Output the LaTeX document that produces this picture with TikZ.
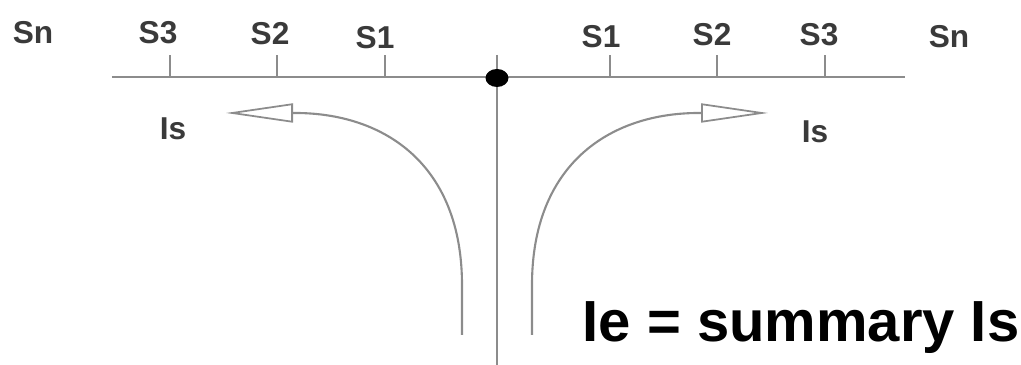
\documentclass[tikz,border=0pt]{standalone}
\usepackage{fontspec}
\setmainfont{Liberation Sans}
\usetikzlibrary{arrows.meta,shapes.geometric}
\definecolor{axisgray}{HTML}{8C8C8C}
\definecolor{labelgray}{HTML}{3A3A3A}

\begin{document}
\begin{tikzpicture}[every node/.style={font=\fontsize{9}{10}\selectfont\bfseries,text=labelgray,inner sep=0pt},
  axisline/.style={draw=axisgray,line width=0.6pt},
  flow/.style={draw=axisgray,line width=0.6pt,-{Triangle[open,length=6.7mm,width=1.9mm,line width=0.5pt]}}]
\useasboundingbox (0,0) rectangle (10.21,3.65);
\coordinate (axisL) at (1.12,2.88);
\coordinate (axisR) at (9.05,2.88);
\coordinate (top) at (4.97,3.10);
\coordinate (bottom) at (4.97,0);
\draw[axisline] (axisL) -- (axisR);
\draw[axisline] (top) -- (bottom);
\node[ellipse,fill=black,minimum width=2.3mm,minimum height=1.8mm] (junction) at (4.97,2.87) {};
\foreach \x/\n in {1.70/l3,2.77/l2,3.85/l1,6.10/r1,7.17/r2,8.25/r3}
  \draw[axisline] (\x,2.88) -- (\x,3.10) coordinate (tick\n);
\node (snL) at (0.33,3.32) {Sn};
\node (s3L) at (1.58,3.32) {S3};
\node (s2L) at (2.70,3.31) {S2};
\node (s1L) at (3.75,3.27) {S1};
\node (s1R) at (6.01,3.28) {S1};
\node (s2R) at (7.12,3.30) {S2};
\node (s3R) at (8.19,3.30) {S3};
\node (snR) at (9.49,3.28) {Sn};
\node (isL) at (1.73,2.36) {Is};
\node (isR) at (8.15,2.33) {Is};
\coordinate (footL) at (4.62,0.30);
\coordinate (headL) at (2.26,2.52);
\coordinate (footR) at (5.32,0.30);
\coordinate (headR) at (7.68,2.52);
\draw[flow] (footL) -- (4.62,0.80) .. controls (4.62,2.00) and (3.85,2.52) .. (2.95,2.52) -- (headL);
\draw[flow] (footR) -- (5.32,0.80) .. controls (5.32,2.00) and (6.09,2.52) .. (6.99,2.52) -- (headR);
\node[font=\fontsize{16.5}{18}\selectfont\bfseries,text=black,anchor=base] (sum) at (8.01,0.23) {Ie = summary Is};
\end{tikzpicture}
\end{document}
